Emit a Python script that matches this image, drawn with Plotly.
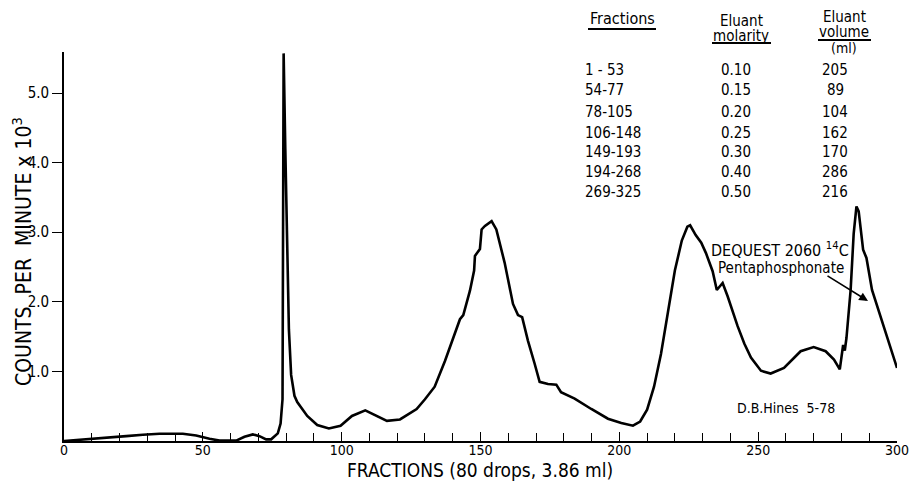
import plotly.graph_objects as go

# ---- data ----
fraction = [0, 5.6, 10.4, 16.4, 22.4, 28.4, 34.4, 42.8, 47.6, 52.4, 56, 62, 65, 68, 70.4,
            72.8, 74.6, 77, 78, 78.7, 79.1, 79.7, 80.3, 81, 81.8, 83, 84, 87.6, 91.2, 95.4,
            99.6, 103.7, 108.5, 112.7, 116.3, 121, 127, 130, 133.5, 137.2, 140.8, 142.6,
            143.8, 146.2, 147.7, 148, 149.8, 150.4, 151.6, 154, 155.7, 158.7, 161.7, 163.5,
            165, 167.1, 169.5, 171.3, 174.3, 177.3, 179, 183.9, 189.9, 195.9, 200.7, 204.9,
            207.5, 210, 212.5, 215, 217.5, 220, 222.5, 224.5, 225.5, 227.5, 229.5, 231.2,
            233.6, 235.1, 237.2, 239, 242.6, 245, 247.4, 251, 254.5, 259.3, 265.3, 270,
            274.3, 277.3, 279.4, 280.6, 281.2, 281.8, 283.3, 284.4, 285.4, 286.2, 287.8,
            289, 291, 294, 296.4, 298.2, 300]
cpm = [0.0, 0.015, 0.033, 0.05, 0.07, 0.09, 0.105, 0.105, 0.08, 0.033, 0.005, 0.005, 0.06,
       0.095, 0.07, 0.024, 0.024, 0.11, 0.25, 0.6, 5.57, 4.2, 2.9, 1.6, 0.95, 0.65, 0.56,
       0.36, 0.23, 0.18, 0.22, 0.36, 0.44, 0.36, 0.29, 0.31, 0.46, 0.6, 0.78, 1.15, 1.54,
       1.75, 1.81, 2.16, 2.45, 2.66, 2.76, 3.04, 3.09, 3.16, 3.04, 2.56, 1.97, 1.81, 1.78,
       1.44, 1.11, 0.85, 0.82, 0.81, 0.70, 0.61, 0.46, 0.32, 0.26, 0.22,
       0.28, 0.45, 0.78, 1.25, 1.85, 2.45, 2.88, 3.08, 3.10, 2.96, 2.85, 2.70,
       2.44, 2.17, 2.27, 2.08, 1.65, 1.40, 1.20, 1.01, 0.97, 1.05, 1.29, 1.35,
       1.29, 1.17, 1.03, 1.38, 1.30, 1.48, 2.17, 2.98, 3.37, 3.30, 2.75,
       2.63, 2.17, 1.79, 1.50, 1.27, 1.05]

table_fractions = ["1 - 53", "54-77", "78-105", "106-148", "149-193", "194-268", "269-325"]
table_molarity = ["0.10", "0.15", "0.20", "0.25", "0.30", "0.40", "0.50"]
table_volume = ["205", "89", "104", "162", "170", "286", "216"]

x_ticks = [0, 50, 100, 150, 200, 250, 300]
y_ticks = [1, 2, 3, 4, 5]
y_ticktext = ["1.0", "2.0", "3.0", "4.0", "5.0"]

# ---- layout geometry ----
W_FIG, H_FIG = 911, 483
L, R, T, B = 64, 14, 52, 42
PW, PH = W_FIG - L - R, H_FIG - T - B
FONT = "Liberation Sans Narrow, DejaVu Sans Condensed, Arial Narrow, sans-serif"


def px(x):
    return (x - L) / PW


def py(y):
    return (T + PH - y) / PH


fig = go.Figure(go.Scatter(x=fraction, y=cpm, mode="lines",
                           line=dict(color="black", width=2.6), hoverinfo="skip"))

ann = []


def txt(x, y, s, size=14, xanchor="center", angle=0):
    ann.append(dict(x=px(x), y=py(y), xref="paper", yref="paper", text=s, showarrow=False,
                    xanchor=xanchor, yanchor="middle", textangle=angle, borderpad=0,
                    font=dict(family=FONT, size=size, color="black")))


# table headers
txt(622, 19, "Fractions", 16)
txt(741, 21, "Eluant", 15)
txt(741, 36, "molarity", 15)
txt(844, 17, "Eluant", 15)
txt(844, 32, "volume", 15)
txt(844, 48, "(ml)", 14)

row_y = [70, 90, 112, 133, 152, 172, 192]
for yy, a, b, c in zip(row_y, table_fractions, table_molarity, table_volume):
    txt(584, yy, a, 15, xanchor="left")
    txt(736, yy, b, 15)
    txt(835, yy, c, 15)

# axis titles
txt(22, 252, "COUNTS&nbsp;&nbsp;PER&nbsp;&nbsp;MINUTE x 10<sup>3</sup>", 21, angle=-90)
txt(480, 470, "FRACTIONS (80 drops, 3.86 ml)", 19)

# annotations
txt(780, 250, "DEQUEST 2060 <sup>14</sup>C", 16)
txt(781, 268, "Pentaphosphonate", 15)
txt(786, 408, "D.B.Hines&nbsp;&nbsp;5-78", 14)

ann.append(dict(x=px(868), y=py(301), xref="paper", yref="paper", ax=-42, ay=-26,
                axref="pixel", ayref="pixel", text="", showarrow=True,
                arrowhead=2, arrowsize=1.1, arrowwidth=1.6, arrowcolor="black"))

shapes = []
for x0, x1, y0 in [(588, 656, 29), (712, 771, 43), (818, 871, 40)]:
    shapes.append(dict(type="line", xref="paper", yref="paper", x0=px(x0), x1=px(x1),
                       y0=py(y0), y1=py(y0), line=dict(color="black", width=2)))

fig.update_layout(
    width=W_FIG, height=H_FIG,
    margin=dict(l=L, r=R, t=T, b=B, pad=0, autoexpand=False),
    paper_bgcolor="white", plot_bgcolor="white",
    showlegend=False,
    annotations=ann, shapes=shapes,
    font=dict(family=FONT, size=14, color="black"),
    xaxis=dict(range=[0, 300], showline=True, linecolor="black", linewidth=1.6,
               showgrid=False, zeroline=False, ticks="inside", ticklen=9, tickwidth=1.4,
               tickcolor="black", tickvals=x_ticks, ticklabelstandoff=-5, automargin=False,
               tickfont=dict(family=FONT, size=14),
               minor=dict(dtick=10, tick0=0, ticks="inside", ticklen=8, tickwidth=1.2,
                          tickcolor="black", showgrid=False)),
    yaxis=dict(range=[0, 5.59], showline=True, linecolor="black", linewidth=1.6,
               showgrid=False, zeroline=False, ticks="outside", ticklen=10, tickwidth=1.4,
               tickcolor="black", tickvals=y_ticks, ticktext=y_ticktext, automargin=False,
               tickfont=dict(family=FONT, size=15)),
)

fig.write_html("out.html", config={"displayModeBar": False},
               post_script="document.body.style.margin='0';")
